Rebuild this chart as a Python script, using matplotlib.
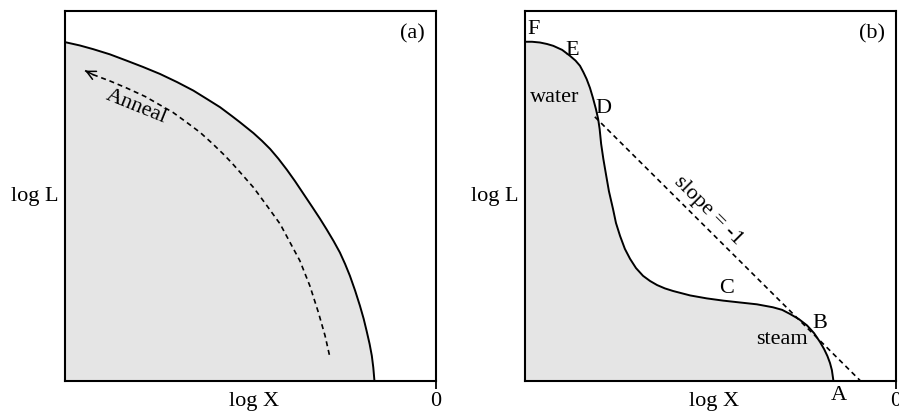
import matplotlib
matplotlib.use("Agg")
import matplotlib.pyplot as plt

# ---------------- data (log X in [-100, 0], log L in [0, 100]) ----------------
# Panel (a): boundary curve
a_logX = [-100.0, -96.0, -92.4, -87.9, -83.4, -79.0, -74.4, -69.8, -65.4, -61.7,
          -58.2, -55.0, -52.8, -49.2, -46.9, -44.7, -42.5, -40.2, -38.0, -35.8,
          -33.4, -31.3, -29.5, -27.6, -25.9, -24.5, -23.2, -21.8, -20.5, -19.5,
          -18.7, -17.9, -17.3, -16.9, -16.6]
a_logL = [91.5, 90.6, 89.6, 88.2, 86.5, 84.8, 82.9, 80.7, 78.4, 76.1,
          73.9, 71.5, 69.8, 66.9, 64.8, 62.6, 60.0, 57.0, 53.9, 50.6,
          47.0, 43.8, 40.9, 37.7, 34.6, 31.5, 28.3, 24.3, 20.2, 16.7,
          13.4, 9.9, 6.7, 3.5, 0.0]

# Panel (a): anneal path (dashed, arrow at the start)
anneal_logX = [-94.6, -92.4, -87.9, -83.4, -78.4, -74.4, -70.9, -67.2, -63.6, -60.4,
               -57.3, -55.0, -52.8, -49.2, -45.6, -42.0, -38.9, -36.7, -34.0, -31.7,
               -29.9, -28.6]
anneal_logL = [83.8, 82.7, 81.0, 79.1, 76.8, 74.5, 72.5, 69.8, 67.1, 64.2,
               61.2, 58.8, 56.3, 52.2, 47.3, 42.3, 36.5, 32.4, 25.6, 18.4,
               12.1, 6.3]

# Panel (b): boundary curve
b_logX = [-99.9, -98.0, -95.9, -94.0, -92.3, -89.9, -87.8, -86.3, -85.1, -84.2,
          -83.3, -82.4, -81.6, -80.8, -80.2, -79.8, -79.4, -78.8, -78.1, -77.3,
          -76.2, -75.4, -74.3, -73.0, -71.6, -70.0, -68.1, -66.2, -64.3, -62.2,
          -60.0, -55.4, -50.9, -46.5, -42.0, -37.4, -33.1, -30.6, -28.5, -26.1,
          -23.9, -22.0, -20.4, -19.3, -18.4, -17.7, -17.2, -16.8]
b_logL = [91.6, 91.6, 91.4, 91.0, 90.5, 89.4, 87.8, 86.5, 85.1, 83.4,
          81.5, 79.1, 76.4, 73.4, 70.7, 68.0, 64.0, 59.9, 55.8, 51.2,
          46.4, 42.6, 39.1, 35.6, 32.9, 30.4, 28.3, 26.9, 25.8, 24.9,
          24.2, 23.0, 22.2, 21.6, 21.1, 20.6, 19.8, 19.1, 18.0, 16.6,
          14.9, 12.8, 10.4, 8.5, 6.6, 4.7, 2.8, 0.0]

# Panel (b): slope = -1 line
slope_logX = [-81.1, -9.6]
slope_logL = [71.3, 0.0]

# Point labels in panel (b)
b_point_names = ["F", "E", "D", "C", "B", "A"]
b_point_logX = [-97.7, -87.3, -78.8, -45.6, -20.4, -15.2]
b_point_logL = [95.1, 89.6, 73.9, 25.2, 15.7, -3.7]

# Phase labels in panel (b)
b_phase_names = ["water", "steam"]
b_phase_logX = [-92.0, -30.7]
b_phase_logL = [76.8, 11.4]

panel_tags = ["(a)", "(b)"]
x_tick_vals = [0]
x_tick_labels = ["0"]

# ---------------- styling ----------------
FONT = ["Liberation Serif", "DejaVu Serif"]
plt.rcParams["font.family"] = FONT
FS = 16
FILL = "#e5e5e5"
LW = 1.4
DASH = (0, (3, 2.3))

fig = plt.figure(figsize=(8.99, 4.14), dpi=100)
ax_a = fig.add_axes([65 / 899, (414 - 381.5) / 414, 371 / 899, 369.8 / 414])
ax_b = fig.add_axes([524.7 / 899, (414 - 381.5) / 414, 371 / 899, 369.8 / 414])

for ax, tag in zip([ax_a, ax_b], panel_tags):
    ax.set_xlim(-100, 0)
    ax.set_ylim(0, 100)
    for s in ax.spines.values():
        s.set_linewidth(1.5)
    ax.set_yticks([])
    ax.set_xticks(x_tick_vals)
    ax.set_xticklabels(x_tick_labels, fontsize=FS)
    ax.tick_params(axis="x", direction="out", length=6, width=1.3, pad=1.5)
    ax.set_xlabel("log X", fontsize=FS)
    ax.xaxis.set_label_coords(0.51, -0.029)
    ax.set_ylabel("log L", fontsize=FS, rotation=0, ha="right", va="center")
    ax.yaxis.set_label_coords(-0.018, 0.5)
    ax.text(-6.5, 94.0, tag, fontsize=FS, ha="center", va="center")

# Panel (a)
ax_a.fill_between(a_logX, a_logL, 0, color=FILL, lw=0, zorder=1)
ax_a.plot(a_logX, a_logL, color="black", lw=LW, zorder=3)
ax_a.plot(anneal_logX, anneal_logL, color="black", lw=1.2,
          linestyle=DASH, zorder=3)
ax_a.annotate("", xy=(anneal_logX[0], anneal_logL[0]),
              xytext=(anneal_logX[1], anneal_logL[1]),
              arrowprops=dict(arrowstyle="->", lw=1.1, color="black",
                              mutation_scale=16, shrinkA=0, shrinkB=0),
              zorder=4)
ax_a.text(-80.9, 74.2, "Anneal", fontsize=FS, ha="center", va="center",
          rotation=-22, rotation_mode="anchor")

# Panel (b)
ax_b.fill_between(b_logX, b_logL, 0, color=FILL, lw=0, zorder=1)
ax_b.plot(b_logX, b_logL, color="black", lw=LW, zorder=3)
ax_b.plot(slope_logX, slope_logL, color="black", lw=1.2,
          linestyle=DASH, zorder=3)
ax_b.text(-50.6, 46.2, "slope = -1", fontsize=FS, ha="center", va="center",
          rotation=-45, rotation_mode="anchor")
for name, x, y in zip(b_point_names, b_point_logX, b_point_logL):
    ax_b.text(x, y, name, fontsize=FS, ha="center", va="center", clip_on=False)
for name, x, y in zip(b_phase_names, b_phase_logX, b_phase_logL):
    ax_b.text(x, y, name, fontsize=FS, ha="center", va="center")

fig.savefig("out.png", dpi=100)
